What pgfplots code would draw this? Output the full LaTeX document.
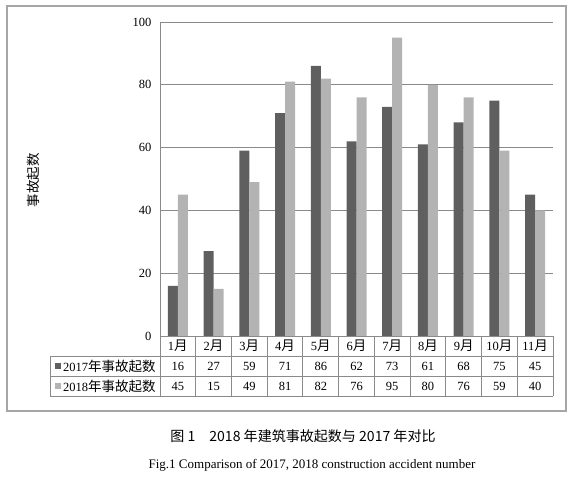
\documentclass[border=0pt]{standalone}
\usepackage{pgfplots}
\pgfplotsset{compat=1.18}
\usepackage{pgfplotstable}
\usepackage{fontspec}
\setmainfont{Liberation Serif}
\newfontfamily\cjk[Scale=1.08]{Noto Sans CJK SC}

\definecolor{dark}{HTML}{5F5F5F}
\definecolor{light}{HTML}{B3B3B3}
\definecolor{rule}{HTML}{8A8A8A}
\definecolor{frame}{HTML}{A6A6A6}

% month index, 2017 and 2018 accident counts
\pgfplotstableread{
idx y2017 y2018
0  16 45
1  27 15
2  59 49
3  71 81
4  86 82
5  62 76
6  73 95
7  61 80
8  68 76
9  75 59
10 45 40
}\acc

\newcommand\fs{\fontsize{12.5}{15}\selectfont}

\begin{document}
\begin{tikzpicture}[x=1pt,y=1pt]
\path[use as bounding box] (0,0) rectangle (576,-477);
\draw[frame, line width=1.2pt] (7,-6) rectangle (566,-411);

\begin{axis}[
    at={(160pt,-336pt)}, anchor=south west,
    width=393pt, height=314pt, scale only axis,
    ymin=0, ymax=100, ytick={0,20,...,100},
    xmin=-0.5, xmax=10.5, xtick=\empty,
    axis y line=left, axis x line=none,
    axis line style={rule, line width=1pt, -},
    ymajorgrids, grid style={rule, line width=1pt},
    major tick length=0pt,
    /pgf/number format/assume math mode=true,
    yticklabel style={font=\fs, xshift=-5pt},
    ybar, bar width=10pt,
    clip=false,
]
\addplot[fill=dark, draw=none, bar shift=-5pt] table[x=idx, y=y2017] {\acc};
\addplot[fill=light, draw=none, bar shift=5pt] table[x=idx, y=y2018] {\acc};
\end{axis}

% y label
\node[rotate=90, font=\cjk\fs] at (33,-180) {事故起数};

% data table under the bars
\begin{scope}[rule, line width=1pt]
  \draw (160,-336) -- (553,-336);
  \foreach \yy in {-356,-376,-396} \draw (50,\yy) -- (553,\yy);
  \draw (50,-356) -- (50,-396);
  \foreach \i in {0,...,11} \draw ({160+35.727*\i},-336) -- ({160+35.727*\i},-396);
\end{scope}
\foreach \i/\a/\b in {0/16/45,1/27/15,2/59/49,3/71/81,4/86/82,5/62/76,6/73/95,7/61/80,8/68/76,9/75/59,10/45/40}{
  \pgfmathtruncatemacro\m{\i+1}
  \node[font=\fs] at ({160+35.727*(\i+0.5)},-346) {\m{\cjk 月}};
  \node[font=\fs] at ({160+35.727*(\i+0.5)},-366) {\a};
  \node[font=\fs] at ({160+35.727*(\i+0.5)},-386) {\b};
}
\fill[dark] (55,-363) rectangle (61,-369);
\fill[light] (55,-383) rectangle (61,-389);
\node[anchor=west, inner sep=0pt, font=\fs] at (63,-366) {2017{\cjk 年事故起数}};
\node[anchor=west, inner sep=0pt, font=\fs] at (63,-386) {2018{\cjk 年事故起数}};

% captions
\node[font=\cjk\fontsize{13}{15}\selectfont] at (303,-436) {图 1\quad 2018 年建筑事故起数与 2017 年对比};
\node[font=\fontsize{13}{15}\selectfont] at (312,-465) {Fig.1 Comparison of 2017, 2018 construction accident number};
\end{tikzpicture}
\end{document}
